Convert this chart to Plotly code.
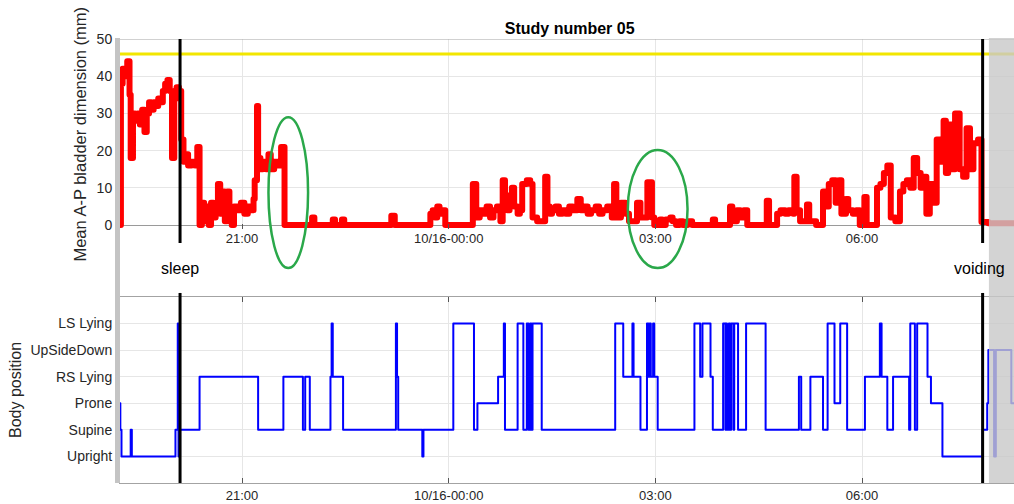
import pandas as pd
import plotly.graph_objects as go

# ---- recording window and events (clock times, evening of 10/15 to morning of 10/16) ----
FIRST_DAY = "2019-10-15"
SECOND_DAY = "2019-10-16"
axis_start = "19:13:42"
axis_end = "08:12:20"
sleep_time = "20:06"
voiding_time = "07:45"
after_voiding = "07:50:30"
threshold_mm = 46

tick_times = ["21:00", "00:00", "03:00", "06:00"]
tick_text = ["21:00", "10/16-00:00", "03:00", "06:00"]

# ---- mean A-P bladder dimension (mm), step samples ----
bladder_time = [
    "19:13:42", "19:14:30", "19:16", "19:18", "19:20", "19:22", "19:23", "19:25", "19:27", "19:29",
    "19:31", "19:33", "19:35", "19:37", "19:39", "19:41", "19:43", "19:45", "19:47", "19:49",
    "19:51", "19:53", "19:55", "19:57", "19:59", "20:01", "20:03", "20:05", "20:06", "20:07",
    "20:09", "20:11", "20:13", "20:16", "20:19", "20:21", "20:23", "20:25", "20:27", "20:29",
    "20:31", "20:33", "20:35", "20:37", "20:39", "20:41", "20:43", "20:45", "20:47", "20:49",
    "20:51", "20:53", "20:56", "20:59", "21:02", "21:05", "21:08", "21:10", "21:11", "21:13",
    "21:14", "21:16", "21:18", "21:21", "21:23", "21:25", "21:28", "21:31", "21:34", "21:37",
    "22:01", "22:03", "22:19", "22:21", "22:27", "22:29", "23:10", "23:13", "23:44", "23:46",
    "23:48", "23:50", "23:52", "23:54", "23:57", "00:21", "00:24", "00:27", "00:30", "00:33",
    "00:36", "00:39", "00:42", "00:45", "00:47", "00:49", "00:51", "00:53", "00:55", "00:57",
    "01:00", "01:02", "01:04", "01:08", "01:11", "01:13", "01:17", "01:24", "01:26", "01:28",
    "01:30", "01:33", "01:36", "01:39", "01:42", "01:45", "01:48", "01:52", "01:55", "01:58",
    "02:01", "02:04", "02:08", "02:11", "02:14", "02:18", "02:22", "02:24", "02:26", "02:30",
    "02:34", "02:37", "02:44", "02:47", "02:53", "02:57", "02:59", "03:04", "03:06", "03:09",
    "03:13", "03:15", "03:18", "03:21", "03:24", "03:28", "03:32", "03:50", "03:52", "04:05",
    "04:07", "04:11", "04:14", "04:17", "04:20", "04:37", "04:39", "04:46", "04:49", "04:53",
    "04:56", "05:00", "05:01", "05:03", "05:06", "05:12", "05:14", "05:20", "05:26", "05:29",
    "05:31", "05:34", "05:37", "05:40", "05:42", "05:46", "05:48", "05:52", "05:55", "05:58",
    "06:02", "06:04", "06:13", "06:16", "06:19", "06:22", "06:25", "06:29", "06:33", "06:36",
    "06:39", "06:42", "06:45", "06:48", "06:51", "06:53", "06:56", "06:59", "07:02", "07:05",
    "07:08", "07:11", "07:13", "07:15", "07:18", "07:21", "07:25", "07:28", "07:31", "07:34",
    "07:37", "07:41", "07:44", "07:50", "08:12:20",
]
bladder_mm = [
    0, 38, 42, 40, 44, 35, 18, 30, 28, 30,
    27, 31, 25, 30, 33, 31, 33, 32, 34, 33,
    36, 38, 39, 36, 18, 35, 37, 34, 36, 23,
    17, 19, 16, 17, 16, 21, 0, 6, 1, 5,
    0, 6, 2, 5, 11, 3, 9, 1, 9, 4,
    0, 5, 4, 6, 3, 5, 4, 7, 12, 32,
    18, 15, 17, 15, 19, 15, 17, 16, 21, 0,
    2, 0, 1.5, 0, 1.5, 0, 2.5, 0, 3, 4,
    2, 5, 3, 4, 0, 11, 2, 4, 3, 5,
    2, 4, 5, 1, 12, 8, 4, 8, 10, 5,
    3, 4, 11, 12, 11, 2, 1, 13, 5, 3,
    4, 5, 3, 4, 3, 5, 4, 7, 4, 5,
    3, 4, 5, 3, 4, 5, 2, 11, 2, 6,
    3, 1, 6, 2, 11.5, 2, 0, 1.5, 0, 1.5,
    2, 1, 0, 1, 0, 1, 0, 1.5, 0, 5,
    1, 4, 2, 4, 0, 6.5, 0, 3, 4, 3,
    4, 3, 13, 4, 1, 5.5, 1, 0, 9, 5,
    11, 12, 6, 12, 3, 7, 4, 3, 4, 0,
    7.5, 0, 10, 11, 14, 16, 2, 1, 9, 11,
    12, 10, 18, 14, 10, 13, 3, 11, 6, 23,
    17, 28, 14, 27, 15, 30, 15, 13, 26, 15,
    22, 23, 0.8, 0.5, 0.5,
]

# ---- body position, step samples (1 = Upright ... 6 = LS Lying) ----
posture_names = ["Upright", "Supine", "Prone", "RS Lying", "UpSideDown", "LS Lying"]
posture_codes = [1, 2, 3, 4, 5, 6]
posture_time = [
    "19:13:42", "19:14", "19:15", "19:23", "19:24", "20:02", "20:04", "20:04:40", "20:06", "20:23",
    "21:14", "21:36", "21:53", "21:55", "21:59", "22:17", "22:18", "22:19", "22:28", "23:14",
    "23:15", "23:16", "23:37", "23:38", "00:04", "00:22", "00:25", "00:43", "00:48", "00:49",
    "01:00", "01:05", "01:08", "01:09:30", "01:11", "01:12", "01:13", "01:21", "02:25", "02:32",
    "02:40", "02:41", "02:47", "02:52:40", "02:54", "02:55", "02:56", "02:58", "02:59", "03:02",
    "03:34", "03:39", "03:41", "03:48", "03:50", "03:59", "04:01", "04:01:30", "04:02:20", "04:04",
    "04:05", "04:06", "04:08", "04:08:40", "04:12", "04:19", "04:36", "05:05", "05:07", "05:15",
    "05:26", "05:30", "05:36", "05:41", "05:47", "06:02:30", "06:15:30", "06:17", "06:22", "06:27",
    "06:41", "06:42", "06:46", "06:48", "06:57", "07:00", "07:10", "07:45", "07:49", "07:50",
    "07:55", "07:56:30", "08:10", "08:12:20",
]
posture_level = [
    3, 2, 1, 2, 1, 2, 6, 1, 2, 4,
    2, 4, 2, 4, 2, 4, 6, 4, 2, 6,
    4, 2, 1, 2, 6, 2, 3, 4, 6, 2,
    6, 2, 6, 2, 6, 2, 6, 2, 6, 4,
    6, 4, 2, 6, 4, 6, 4, 6, 4, 2,
    6, 4, 6, 4, 2, 6, 2, 6, 2, 6,
    2, 6, 2, 6, 2, 6, 2, 4, 2, 4,
    2, 6, 3, 6, 2, 4, 6, 4, 2, 4,
    2, 6, 2, 6, 4, 3, 1, 2, 3, 5,
    1, 5, 3, 3,
]

# ---- highlighted windows (start, end) ----
highlight_windows = [("21:23", "21:57:30"), ("02:36", "03:28")]


def stamp(clock):
    """Clock time -> full timestamp; morning hours belong to the second day."""
    hour = int(clock.split(":")[0])
    day = FIRST_DAY if hour >= 12 else SECOND_DAY
    if clock.count(":") == 1:
        clock = clock + ":00"
    return pd.Timestamp(f"{day} {clock}")


def stamps(clocks):
    return [stamp(c) for c in clocks]


x_range = [stamp(axis_start), stamp(axis_end)]
TEXT = "#262626"
AXIS_LINE = "#a3a3a3"
GRID = "#e6e6e6"
FONT = "Liberation Sans, Arial, sans-serif"

fig = go.Figure()
fig.add_trace(go.Scatter(
    x=stamps(bladder_time), y=bladder_mm, mode="lines",
    line=dict(color="#ff0000", width=6, shape="hv"),
    xaxis="x", yaxis="y", hoverinfo="skip",
))
fig.add_trace(go.Scatter(
    x=stamps(posture_time), y=posture_level, mode="lines",
    line=dict(color="#0000ff", width=2, shape="hv"),
    xaxis="x2", yaxis="y2", hoverinfo="skip",
))

TOP_LOW = 0.571
BOTTOM_HIGH = 0.419

common_x = dict(
    type="date", range=x_range, tickmode="array",
    tickvals=stamps(tick_times), ticktext=tick_text,
    ticks="inside", ticklen=5, tickcolor="#555555",
    showgrid=True, gridcolor=GRID, gridwidth=1,
    tickfont=dict(size=13, color=TEXT), zeroline=False,
)

fig.update_layout(
    width=1014, height=504,
    margin=dict(l=120, r=0, t=39, b=21, autoexpand=False),
    paper_bgcolor="white", plot_bgcolor="white",
    showlegend=False,
    font=dict(family=FONT, color=TEXT),
    title=dict(text="<b>Study number 05</b>", x=0.503, xref="paper", xanchor="center",
               y=0.944, yref="container", yanchor="middle",
               font=dict(size=16, color="#000000", family=FONT)),
    xaxis=dict(domain=[0, 1], anchor="y", showline=False, **common_x),
    yaxis=dict(
        domain=[TOP_LOW, 1], range=[-1.2, 50], tickvals=[0, 10, 20, 30, 40, 50],
        showgrid=True, gridcolor=GRID, zeroline=True, zerolinecolor="#9a9a9a",
        zerolinewidth=1, showline=True, linecolor=AXIS_LINE, ticks="",
        tickfont=dict(size=14, color=TEXT), ticklabelstandoff=4,
        title=dict(text="Mean A-P bladder dimension (mm)", font=dict(size=16.5, color=TEXT),
                   standoff=5),
    ),
    xaxis2=dict(domain=[0, 1], anchor="y2", showline=True, linecolor=AXIS_LINE,
                mirror="ticks", **common_x),
    yaxis2=dict(
        domain=[0, BOTTOM_HIGH], range=[0, 7], tickmode="array",
        tickvals=posture_codes, ticktext=posture_names,
        showgrid=True, gridcolor=GRID, zeroline=False,
        showline=True, linecolor=AXIS_LINE, mirror=True, ticks="",
        tickfont=dict(size=14, color=TEXT), ticklabelstandoff=4,
        title=dict(text="Body position", font=dict(size=16, color=TEXT), standoff=4),
    ),
)

shapes = [
    # top border of the upper panel
    dict(type="line", xref="paper", yref="y", x0=0, x1=1, y0=50, y1=50,
         line=dict(color=AXIS_LINE, width=1)),
    # full-bladder reference level
    dict(type="line", xref="paper", yref="y", x0=0, x1=1, y0=threshold_mm, y1=threshold_mm,
         line=dict(color="#f2e600", width=3)),
]
for t in (sleep_time, voiding_time):
    ts = stamp(t)
    shapes.append(dict(type="line", xref="x", yref="paper", x0=ts, x1=ts, y0=0.5405, y1=1.0,
                       line=dict(color="#000000", width=3)))
    shapes.append(dict(type="line", xref="x", yref="paper", x0=ts, x1=ts, y0=0.0, y1=0.428,
                       line=dict(color="#000000", width=3)))
# shaded interval after voiding
shapes.append(dict(type="rect", xref="x", yref="paper", x0=stamp(after_voiding), x1=x_range[1],
                   y0=0, y1=1.002, fillcolor="rgb(200,200,200)", opacity=0.8,
                   line=dict(width=0), layer="above"))
# strip marking the start of recording
shapes.append(dict(type="rect", xref="paper", yref="paper", x0=-0.0056, x1=0, y0=0, y1=1.002,
                   fillcolor="#c4c4c4", line=dict(width=0), layer="above"))
# highlighted windows
for (a, b), (ylo, yhi) in zip(highlight_windows, [(0.484, 0.824), (0.484, 0.750)]):
    shapes.append(dict(type="circle", xref="x", yref="paper", x0=stamp(a), x1=stamp(b),
                       y0=ylo, y1=yhi, line=dict(color="#2aa84a", width=2.5), layer="above"))
fig.update_layout(shapes=shapes)

fig.add_annotation(x=stamp(sleep_time), y=0.484, xref="x", yref="paper", text="sleep",
                   showarrow=False, font=dict(size=16, color="#000000"), xanchor="center",
                   yanchor="middle")
fig.add_annotation(x=stamp("07:42"), y=0.484, xref="x", yref="paper", text="voiding",
                   showarrow=False, font=dict(size=16, color="#000000"), xanchor="center",
                   yanchor="middle")

# rounded joins for the thick traces
round_joins = (
    "document.querySelectorAll('.scatterlayer .js-line').forEach(function(p){"
    "p.style.strokeLinejoin='round';p.style.strokeLinecap='round';});"
)
fig.write_html("out.html", post_script=round_joins)
